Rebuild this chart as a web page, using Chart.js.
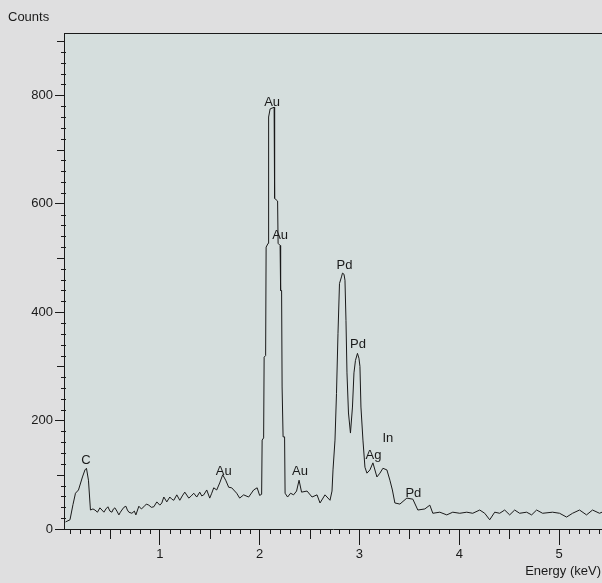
<!DOCTYPE html>
<html>
<head>
<meta charset="utf-8">
<script src="https://cdn.jsdelivr.net/npm/chart.js@4.4.1/dist/chart.umd.min.js"></script>
<style>
  html, body { margin: 0; padding: 0; background: #dfdfe0; overflow: hidden; }
  #wrap { width: 602px; height: 583px; position: relative; }
</style>
</head>
<body>
<div id="wrap"><canvas id="edsChart"></canvas></div>
<script>
// EDS spectrum, energy in keV and counts
var energy = [
  0.055, 0.10, 0.13, 0.155, 0.185, 0.225, 0.25, 0.265, 0.285, 0.305,
  0.33, 0.35, 0.375, 0.40, 0.42, 0.44, 0.46, 0.48, 0.50, 0.52,
  0.535, 0.55, 0.57, 0.59, 0.605, 0.62, 0.64, 0.66, 0.675, 0.69,
  0.72, 0.745, 0.76, 0.79, 0.815, 0.84, 0.865, 0.89, 0.915, 0.94,
  0.97, 1.00, 1.02, 1.04, 1.07, 1.10, 1.12, 1.14, 1.17, 1.20,
  1.225, 1.25, 1.29, 1.315, 1.34, 1.37, 1.40, 1.42, 1.44, 1.47,
  1.50, 1.52, 1.54, 1.57, 1.60, 1.63, 1.66, 1.69, 1.72, 1.77,
  1.80, 1.84, 1.89, 1.94, 1.975, 2.00, 2.02,
  2.025, 2.04, 2.045, 2.06, 2.065, 2.085, 2.09, 2.105, 2.145, 2.15,
  2.18, 2.185, 2.205, 2.21, 2.22, 2.225, 2.23, 2.235, 2.25, 2.255,
  2.28, 2.31, 2.34, 2.37, 2.395, 2.42, 2.475, 2.525, 2.575, 2.605,
  2.655, 2.705, 2.725, 2.735, 2.755, 2.77, 2.785, 2.80, 2.82, 2.83,
  2.845, 2.855, 2.865, 2.875, 2.89, 2.91, 2.93, 2.945, 2.96, 2.98,
  2.995, 3.005, 3.015, 3.035, 3.055, 3.075, 3.105, 3.135, 3.175, 3.205,
  3.235, 3.275, 3.305, 3.33, 3.355, 3.405, 3.475, 3.535, 3.585, 3.655,
  3.705, 3.735, 3.805, 3.875, 3.935, 4.005, 4.075, 4.135, 4.205, 4.255,
  4.305, 4.355, 4.405, 4.455, 4.505, 4.555, 4.605, 4.675, 4.725, 4.775,
  4.835, 4.935, 5.005, 5.075, 5.135, 5.205, 5.275, 5.335, 5.405, 5.43
];
var counts = [
  13, 17, 45, 66, 72, 96, 109, 112, 90, 35,
  37, 35, 31, 39, 35, 31, 37, 41, 33, 31,
  37, 39, 33, 26, 31, 35, 40, 42, 35, 31,
  29, 33, 26, 42, 37, 41, 46, 44, 40, 41,
  50, 44, 48, 59, 50, 59, 55, 53, 63, 53,
  61, 68, 57, 61, 66, 59, 68, 61, 63, 72,
  57, 66, 76, 72, 85, 100, 90, 77, 76, 66,
  57, 63, 59, 72, 76, 62, 64,
  164, 168, 317, 320, 520, 527, 760, 775, 778, 610,
  605, 527, 523, 440, 440, 262, 262, 170, 170, 66,
  59, 66, 63, 70, 90, 68, 70, 59, 63, 48,
  63, 53, 70, 109, 164, 250, 361, 453, 465, 472,
  470, 459, 385, 288, 214, 177, 225, 288, 311, 324,
  315, 300, 225, 164, 114, 103, 109, 122, 96, 103,
  112, 109, 90, 72, 48, 46, 57, 55, 35, 37,
  44, 29, 31, 26, 31, 29, 31, 29, 35, 29,
  17, 31, 29, 35, 26, 35, 29, 31, 26, 35,
  29, 31, 29, 22, 29, 35, 26, 35, 29, 31
];

// element labels placed over the peaks
var peakNames = ["C", "Au", "Au", "Au", "Au", "Pd", "Pd", "Ag", "In", "Pd"];
var peakEnergy = [0.26, 1.64, 2.125, 2.205, 2.405, 2.85, 2.985, 3.14, 3.285, 3.54];
var peakCounts = [127, 106, 787, 542, 106, 487, 341, 135, 168, 66];

var yTicks = [0, 200, 400, 600, 800];
var xTicks = [1, 2, 3, 4, 5];

var points = energy.map(function (e, i) { return { x: e, y: counts[i] }; });
var fontFamily = "'Liberation Sans', Arial, sans-serif";
var inkColor = "#1a1a1a";

var decor = {
  id: "decor",
  beforeDraw: function (chart) {
    var a = chart.chartArea, ctx = chart.ctx;
    ctx.save();
    ctx.fillStyle = "#d5dedd";
    ctx.fillRect(a.left, a.top, a.right - a.left, a.bottom - a.top);
    ctx.restore();
  },
  afterDatasetsDraw: function (chart) {
    var ctx = chart.ctx, xs = chart.scales.x, ys = chart.scales.y;
    ctx.save();
    ctx.fillStyle = inkColor;
    ctx.font = "13px " + fontFamily;
    ctx.textAlign = "center";
    ctx.textBaseline = "middle";
    peakNames.forEach(function (name, i) {
      ctx.fillText(name, xs.getPixelForValue(peakEnergy[i]), ys.getPixelForValue(peakCounts[i]));
    });
    ctx.restore();
  },
  afterDraw: function (chart) {
    var ctx = chart.ctx, a = chart.chartArea, xs = chart.scales.x, ys = chart.scales.y;
    ctx.save();
    ctx.strokeStyle = inkColor;
    ctx.lineWidth = 1;
    ctx.beginPath();
    // top frame line
    ctx.moveTo(a.left, a.top + 0.5);
    ctx.lineTo(a.right, a.top + 0.5);
    // y minor ticks every 20, medium every 100
    for (var v = 20; v <= 900; v += 20) {
      if (v % 200 === 0) continue;
      var py = Math.round(ys.getPixelForValue(v)) + 0.5;
      if (v % 100 === 0) { ctx.moveTo(a.left - 7, py); ctx.lineTo(a.left, py); }
      else { ctx.moveTo(a.left - 3, py); ctx.lineTo(a.left + 2, py); }
    }
    // x minor ticks every 0.1, medium every 0.5
    for (var k = 1; k <= 54; k++) {
      if (k % 10 === 0) continue;
      var px = Math.round(xs.getPixelForValue(k / 10)) + 0.5;
      ctx.moveTo(px, a.bottom);
      ctx.lineTo(px, a.bottom + (k % 5 === 0 ? 10 : 5));
    }
    ctx.stroke();
    ctx.fillStyle = inkColor;
    ctx.font = "13px " + fontFamily;
    ctx.textBaseline = "middle";
    ctx.textAlign = "left";
    ctx.fillText("Counts", 8, 17);
    ctx.textAlign = "right";
    ctx.fillText("Energy (keV)", 601, 571);
    ctx.restore();
  }
};

new Chart("edsChart", {
  type: "line",
  data: {
    datasets: [{
      data: points,
      borderColor: inkColor,
      borderWidth: 1,
      pointRadius: 0,
      tension: 0,
      fill: false
    }]
  },
  options: {
    responsive: true,
    maintainAspectRatio: false,
    animation: false,
    layout: { padding: { top: 33, right: 0, left: 0, bottom: 0 } },
    plugins: { legend: { display: false }, tooltip: { enabled: false } },
    scales: {
      x: {
        type: "linear",
        min: 0.04,
        max: 5.43,
        afterFit: function (s) { s.height = 54; },
        afterBuildTicks: function (s) { s.ticks = xTicks.map(function (v) { return { value: v }; }); },
        ticks: {
          padding: 2,
          maxRotation: 0,
          autoSkip: false,
          color: inkColor,
          font: { size: 13, family: fontFamily }
        },
        grid: { drawOnChartArea: false, tickLength: 16, color: inkColor },
        border: { color: inkColor }
      },
      y: {
        type: "linear",
        min: 0,
        max: 915,
        afterFit: function (s) { s.width = 64; },
        afterBuildTicks: function (s) { s.ticks = yTicks.map(function (v) { return { value: v }; }); },
        ticks: {
          padding: 2,
          color: inkColor,
          font: { size: 13, family: fontFamily }
        },
        grid: { drawOnChartArea: false, tickLength: 9, color: inkColor },
        border: { color: inkColor }
      }
    }
  },
  plugins: [decor]
});
</script>
</body>
</html>
